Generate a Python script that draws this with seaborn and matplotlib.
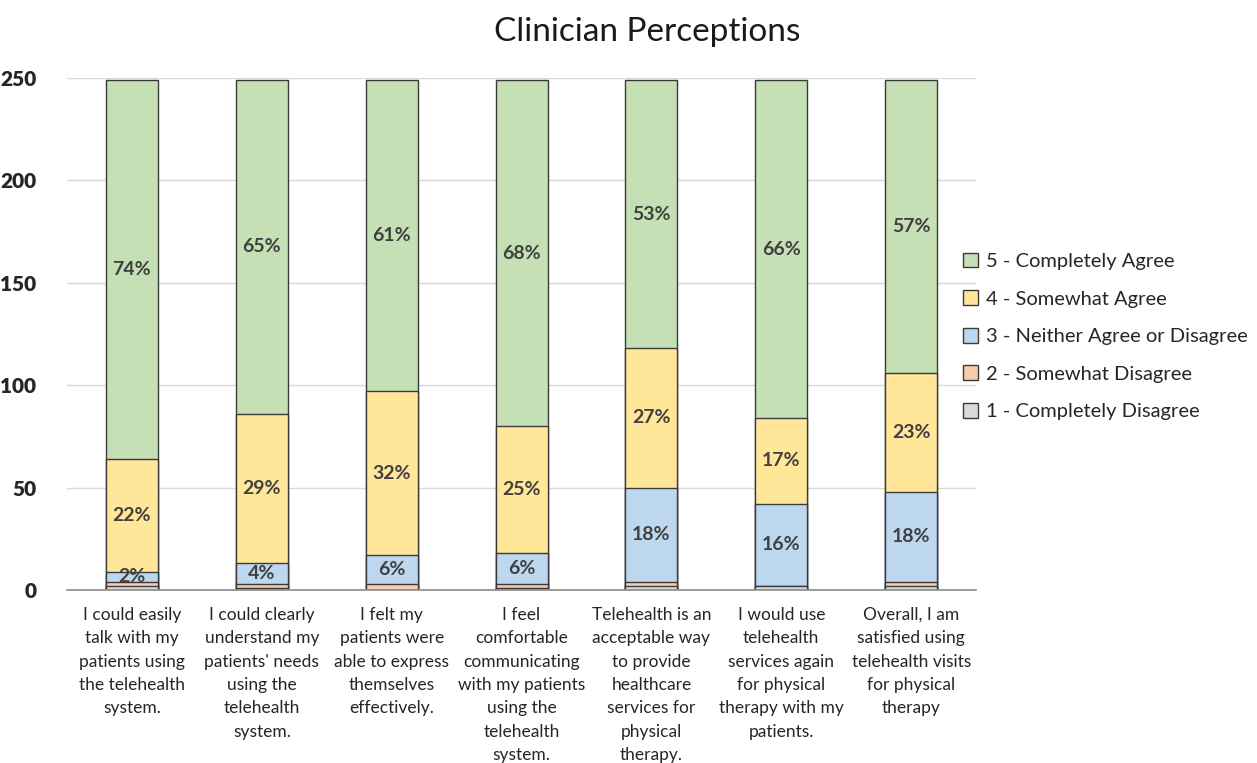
import matplotlib
matplotlib.use("Agg")
import matplotlib.pyplot as plt
from matplotlib.patches import Patch
import numpy as np
import pandas as pd
import seaborn as sns

# Survey statements (x categories)
statements = [
    "I could easily\ntalk with my\npatients using\nthe telehealth\nsystem.",
    "I could clearly\nunderstand my\npatients' needs\nusing the\ntelehealth\nsystem.",
    "I felt my\npatients were\nable to express\nthemselves\neffectively.",
    "I feel\ncomfortable\ncommunicating\nwith my patients\nusing the\ntelehealth\nsystem.",
    "Telehealth is an\nacceptable way\nto provide\nhealthcare\nservices for\nphysical\ntherapy.",
    "I would use\ntelehealth\nservices again\nfor physical\ntherapy with my\npatients.",
    "Overall, I am\nsatisfied using\ntelehealth visits\nfor physical\ntherapy",
]

# Response levels, bottom to top of each stack
levels = [
    "1 - Completely Disagree",
    "2 - Somewhat Disagree",
    "3 - Neither Agree or Disagree",
    "4 - Somewhat Agree",
    "5 - Completely Agree",
]

# Number of clinicians choosing each response
completely_disagree = [2, 1, 0, 1, 2, 2, 2]
somewhat_disagree = [2, 2, 3, 2, 2, 0, 2]
neither = [5, 10, 14, 15, 46, 40, 44]
somewhat_agree = [55, 73, 80, 62, 68, 42, 58]
completely_agree = [185, 163, 152, 169, 131, 165, 143]

# Levels whose share is printed inside the segment
labelled_levels = [2, 3, 4]

colors = ["#D9D9D9", "#F8CBAD", "#BDD7EE", "#FFE699", "#C5E0B4"]

counts = np.array([completely_disagree, somewhat_disagree, neither,
                   somewhat_agree, completely_agree], dtype=float)
tops = counts.cumsum(axis=0)
totals = tops[-1]

sns.set_theme(style="white")
plt.rcParams["font.family"] = ["Lato", "DejaVu Sans"]

fig = plt.figure(figsize=(12.57, 7.63), dpi=100)
ax = fig.add_axes([0.0533, 0.2267, 0.7232, 0.6711])

# Draw cumulative stacks from the top down so each level overlays the one above
for i in range(len(levels) - 1, -1, -1):
    df = pd.DataFrame({"statement": statements, "top": tops[i]})
    sns.barplot(data=df, x="statement", y="top", color=colors[i],
                width=0.4, edgecolor="#3a3a3a", linewidth=1.0,
                saturation=1, ax=ax, zorder=2)

# Percentage labels centred in their segments
for i in labelled_levels:
    bottoms = tops[i] - counts[i]
    for j in range(len(statements)):
        pct = int(round(counts[i][j] / totals[j] * 100))
        ax.text(j, bottoms[j] + counts[i][j] / 2, f"{pct}%",
                ha="center", va="center", fontsize=14, fontweight="bold",
                color="#404040", zorder=5)

ax.set_ylim(0, 250)
ax.set_xlim(-0.5, len(statements) - 0.5)
ax.set_yticks([0, 50, 100, 150, 200, 250])
ax.yaxis.grid(True, color="#D9D9D9", linewidth=1)
ax.set_axisbelow(True)
for side in ["top", "right", "left"]:
    ax.spines[side].set_visible(False)
ax.spines["bottom"].set_color("#8c8c8c")
ax.spines["bottom"].set_linewidth(1.2)
ax.tick_params(axis="both", length=0)
ax.tick_params(axis="y", pad=22)
ax.tick_params(axis="x", pad=12)
for lbl in ax.get_yticklabels():
    lbl.set_fontsize(15)
    lbl.set_fontweight("heavy")
    lbl.set_color("#262626")
ax.set_xticks(range(len(statements)))
ax.set_xticklabels(statements, fontsize=12.5, color="#262626", linespacing=1.57,
                   va="top")
ax.set_xlabel("")
ax.set_ylabel("")

fig.suptitle("Clinician Perceptions", x=0.515, y=0.978, fontsize=24,
             color="#1a1a1a")

handles = [Patch(facecolor=colors[i], edgecolor="#3a3a3a", linewidth=1.0,
                 label=levels[i]) for i in range(len(levels) - 1, -1, -1)]
fig.legend(handles=handles, loc="center left", bbox_to_anchor=(0.752, 0.559),
           frameon=False, fontsize=14.5, handlelength=0.75, handleheight=0.75,
           handletextpad=0.35, labelspacing=1.0, labelcolor="#262626")

fig.savefig("out.png", dpi=100)
